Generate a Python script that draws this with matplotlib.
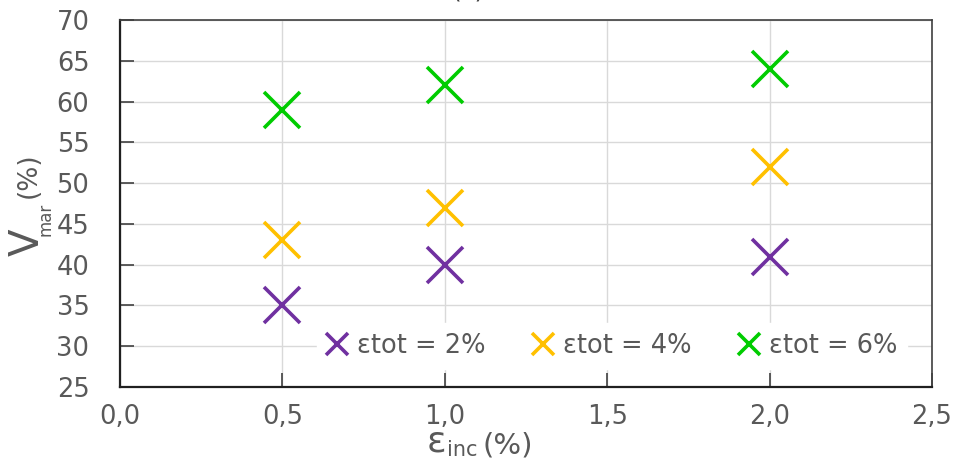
import matplotlib
matplotlib.use('Agg')
import matplotlib.pyplot as plt

# values
eps_inc = [0.5, 1.0, 2.0]
vmar_2 = [35, 40, 41]
vmar_4 = [43, 47, 52]
vmar_6 = [59, 62, 64]
series_labels = ['εtot = 2%', 'εtot = 4%', 'εtot = 6%']
colors = ['#7030A0', '#FFC000', '#00CC00']
xticks = [0.0, 0.5, 1.0, 1.5, 2.0, 2.5]
yticks = [25, 30, 35, 40, 45, 50, 55, 60, 65, 70]

W, H = 956, 461
plt.rcParams['font.family'] = ['DejaVu Sans']
fig = plt.figure(figsize=(W / 100, H / 100), dpi=100)
ax = fig.add_axes([0.1255, 0.1605, 0.8494, 0.7961])

for ys, lab, c in zip([vmar_2, vmar_4, vmar_6], series_labels, colors):
    ax.plot(eps_inc, ys, linestyle='none', marker='x', markersize=26,
            markeredgewidth=2.6, color=c, label=lab)

ax.set_xlim(0, 2.5)
ax.set_ylim(25, 70)
ax.set_xticks(xticks)
ax.set_yticks(yticks)
ax.set_xticklabels([('%.1f' % v).replace('.', ',') for v in xticks])
ax.grid(True, color='#D9D9D9', linewidth=1)
ax.set_axisbelow(True)
ax.tick_params(direction='in', length=10, width=1.2, color='#404040',
               labelsize=18.5, labelcolor='#595959', top=False, right=False)
ax.tick_params(axis='x', pad=12)
ax.tick_params(axis='y', pad=22)
for s in ax.spines.values():
    s.set_color('#404040')
    s.set_linewidth(1.2)
ax.spines['left'].set_color('#202020')
ax.spines['bottom'].set_color('#202020')
ax.spines['left'].set_linewidth(1.6)
ax.spines['bottom'].set_linewidth(1.6)


def px(x, y):
    return x / W, 1 - y / H


# axis labels built from pieces (big letter, small subscript, unit)
lab_col = '#595959'
fig.text(*px(28, 242), 'V', fontsize=29, color=lab_col, rotation=90, ha='center', va='center')
fig.text(*px(45, 219), 'mar', fontsize=12, color=lab_col, rotation=90, ha='center', va='center')
fig.text(*px(29, 175), '(%)', fontsize=19, color=lab_col, rotation=90, ha='center', va='center')

fig.text(*px(436, 441), 'ε', fontsize=26, color=lab_col, ha='center', va='center')
fig.text(*px(462, 450), 'inc', fontsize=15, color=lab_col, ha='center', va='center')
fig.text(*px(508, 445), '(%)', fontsize=21, color=lab_col, ha='center', va='center')

leg = ax.legend(loc='center', bbox_to_anchor=(0.606, 0.112), ncol=3, frameon=True,
                fontsize=18.5, handlelength=0.8, handletextpad=0.35, columnspacing=1.87,
                markerscale=0.6, borderpad=0.4)
leg.get_frame().set_edgecolor('white')
leg.get_frame().set_alpha(1)
for t in leg.get_texts():
    t.set_color('#595959')

fig.text(0.49, 1.02, '(c)', fontsize=18, color='#404040', ha='center', va='center')

plt.savefig('out.png', dpi=100)
